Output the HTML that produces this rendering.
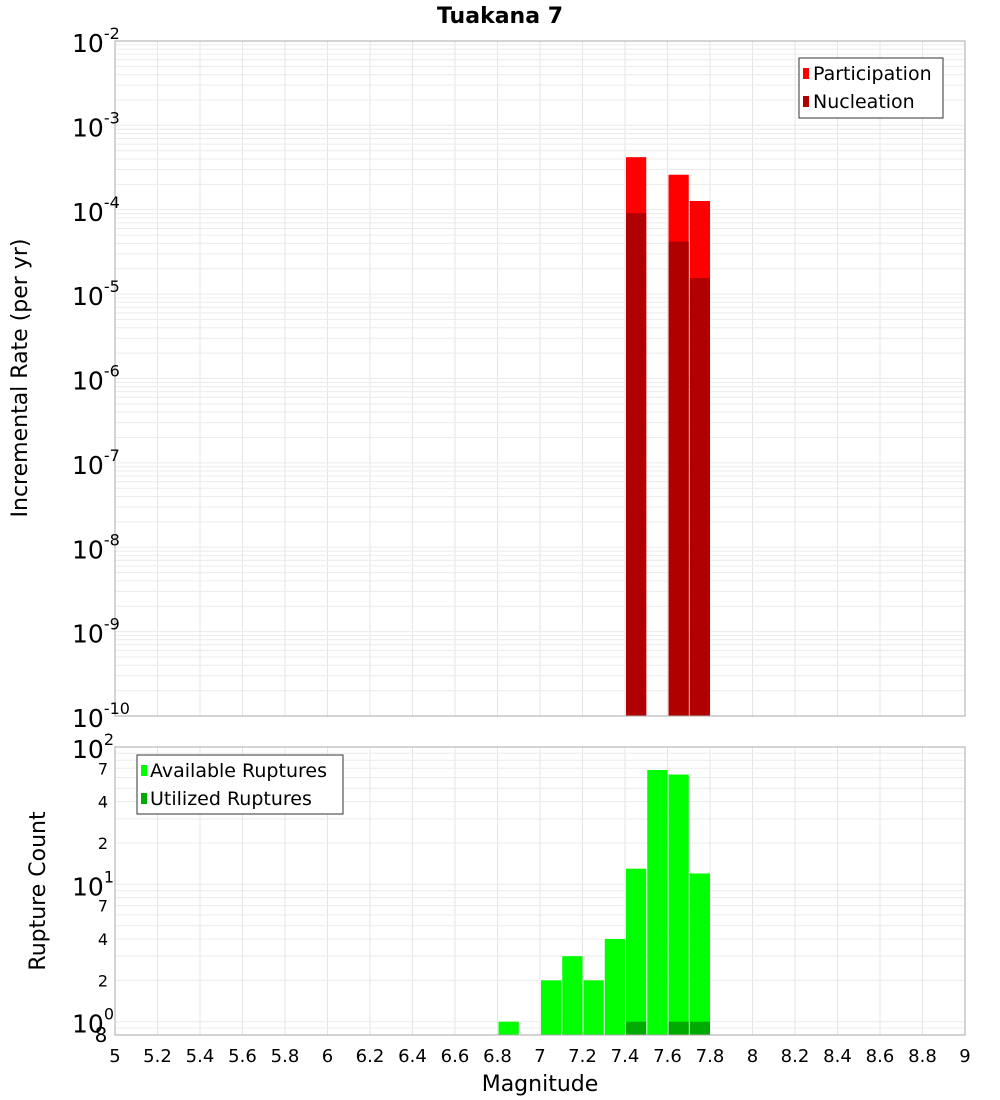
<!DOCTYPE html>
<html><head><meta charset="utf-8"><style>
body{margin:0;background:#fff;}
svg{display:block;font-family:"Liberation Sans","DejaVu Sans",sans-serif;}
</style></head><body>
<svg id="chart" width="1000" height="1100" xmlns="http://www.w3.org/2000/svg">
<text x="500" y="23" text-anchor="middle" font-size="22" font-weight="bold" font-family="DejaVu Sans, sans-serif">Tuakana 7</text>
<g id="gtop"></g><g id="gbot"></g><g id="gx"></g>
<text transform="translate(27,378) rotate(-90)" text-anchor="middle" font-size="22" font-family="DejaVu Sans, sans-serif">Incremental Rate (per yr)</text>
<text transform="translate(45,891) rotate(-90)" text-anchor="middle" font-size="22" font-family="DejaVu Sans, sans-serif">Rupture Count</text>
<text x="540" y="1091" text-anchor="middle" font-size="22" font-family="DejaVu Sans, sans-serif">Magnitude</text>
<g>
<rect x="799" y="58" width="144" height="60" fill="#fff" stroke="#333"/>
<rect x="803" y="68" width="6" height="11" fill="#ff0000"/>
<text x="813" y="80" font-size="19" font-family="DejaVu Sans, sans-serif">Participation</text>
<rect x="803" y="96" width="6" height="11" fill="#b00000"/>
<text x="813" y="108" font-size="19" font-family="DejaVu Sans, sans-serif">Nucleation</text>
</g>
<g>
<rect x="137" y="755" width="206" height="59" fill="#fff" stroke="#333"/>
<rect x="141" y="765" width="6" height="11" fill="#00ff00"/>
<text x="150" y="777" font-size="19" font-family="DejaVu Sans, sans-serif">Available Ruptures</text>
<rect x="141" y="793" width="6" height="11" fill="#00aa00"/>
<text x="150" y="805" font-size="19" font-family="DejaVu Sans, sans-serif">Utilized Ruptures</text>
</g>
</svg>
<script>
const mags = [7.45, 7.65, 7.75];
const participation = [4.2e-4, 2.6e-4, 1.27e-4];
const nucleation = [9.1e-5, 4.2e-5, 1.55e-5];
const countMags = [6.85, 7.05, 7.15, 7.25, 7.35, 7.45, 7.55, 7.65, 7.75];
const available = [1, 2, 3, 2, 4, 13, 68, 63, 12];
const utilMags = [7.45, 7.65, 7.75];
const utilized = [1, 1, 1];
const xTicks = [5,5.2,5.4,5.6,5.8,6,6.2,6.4,6.6,6.8,7,7.2,7.4,7.6,7.8,8,8.2,8.4,8.6,8.8,9];
const topExps = [-2,-3,-4,-5,-6,-7,-8,-9,-10];
const botMinor = [2,4,7];

const NS="http://www.w3.org/2000/svg";
const L=115,R=965;
const X=m=>L+(m-5)/4*(R-L);
const T0=41,T1=716, YT=v=>T0+(-2-Math.log10(v))/8*(T1-T0);
const B0=747,B1=1035, YB=v=>B0+(2-Math.log10(v))/(2-Math.log10(0.8))*(B1-B0);
function el(p,t,a,txt){const e=document.createElementNS(NS,t);for(const k in a)e.setAttribute(k,a[k]);if(txt!==undefined)e.textContent=txt;p.appendChild(e);return e;}
const gTop=document.getElementById('gtop'),gBot=document.getElementById('gbot'),gX=document.getElementById('gx');
for(const t of xTicks){
  const g1=el(gTop,'line',{x1:X(t),x2:X(t),y1:T0,y2:T1,stroke:'#e6e6e6'});
  
  
  const g2=el(gBot,'line',{x1:X(t),x2:X(t),y1:B0,y2:B1,stroke:'#e6e6e6'});
  
  
}
for(let e=-10;e<-2;e++)for(let k=1;k<10;k++){const y=YT(k*Math.pow(10,e));
  const g=el(gTop,'line',{x1:L,x2:R,y1:y,y2:y,stroke:'#ececec'});
  
  }
for(let e=-1;e<2;e++)for(let k=1;k<10;k++){const v=k*Math.pow(10,e);if(v<0.8)continue;const y=YB(v);
  const g=el(gBot,'line',{x1:L,x2:R,y1:y,y2:y,stroke:'#ececec'});
  
  }
mags.forEach((m,i)=>{
  const x0=X(m-0.05)+1,w=X(m+0.05)-X(m-0.05)-1;
  const p=el(gTop,'rect',{x:x0,y:YT(participation[i]),width:w,height:T1-YT(participation[i]),fill:'#ff0000'});
  
  
  const n=el(gTop,'rect',{x:x0,y:YT(nucleation[i]),width:w,height:T1-YT(nucleation[i]),fill:'#b00000'});
  
  
});
countMags.forEach((m,i)=>{
  const x0=X(m-0.05)+1,w=X(m+0.05)-X(m-0.05)-1;
  const b=el(gBot,'rect',{x:x0,y:YB(available[i]),width:w,height:B1-YB(available[i]),fill:'#00ff00'});
  
  
});
utilMags.forEach((m,i)=>{
  const x0=X(m-0.05)+1,w=X(m+0.05)-X(m-0.05)-1;
  const b=el(gBot,'rect',{x:x0,y:YB(utilized[i]),width:w,height:B1-YB(utilized[i]),fill:'#00aa00'});
  
  
});
el(gTop,'rect',{x:L,y:T0,width:R-L,height:T1-T0,fill:'none',stroke:'#aaa'});
el(gBot,'rect',{x:L,y:B0,width:R-L,height:B1-B0,fill:'none',stroke:'#aaa'});
topExps.forEach(e=>{const y=YT(Math.pow(10,e));
  const t=el(gTop,'text',{x:72,y:y+11,'font-size':25,'font-family':'DejaVu Sans, sans-serif'},'10');
  
  
  el(t,'tspan',{dy:-13,'font-size':16},String(e));
});
[2,1,0].forEach(e=>{const y=YB(Math.pow(10,e));
  const t=el(gBot,'text',{x:72,y:y+11,'font-size':25,'font-family':'DejaVu Sans, sans-serif'},'10');
  
  
  el(t,'tspan',{dy:-13,'font-size':16},String(e));
});
[0,1].forEach(e=>botMinor.forEach(k=>{const y=YB(k*Math.pow(10,e));
  const t=el(gBot,'text',{x:103,y:y+6,'font-size':16,'text-anchor':'middle','font-family':'DejaVu Sans, sans-serif'},String(k));
  
  }));
{const t=el(gBot,'text',{x:101,y:1042,'font-size':20,'text-anchor':'middle','font-family':'DejaVu Sans, sans-serif'},'8');
 
 }
xTicks.forEach(v=>{
  const t=el(gX,'text',{x:X(v),y:1062,'font-size':18,'text-anchor':'middle','font-family':'DejaVu Sans, sans-serif'},String(v));
  
  
});
</script>
</body></html>
